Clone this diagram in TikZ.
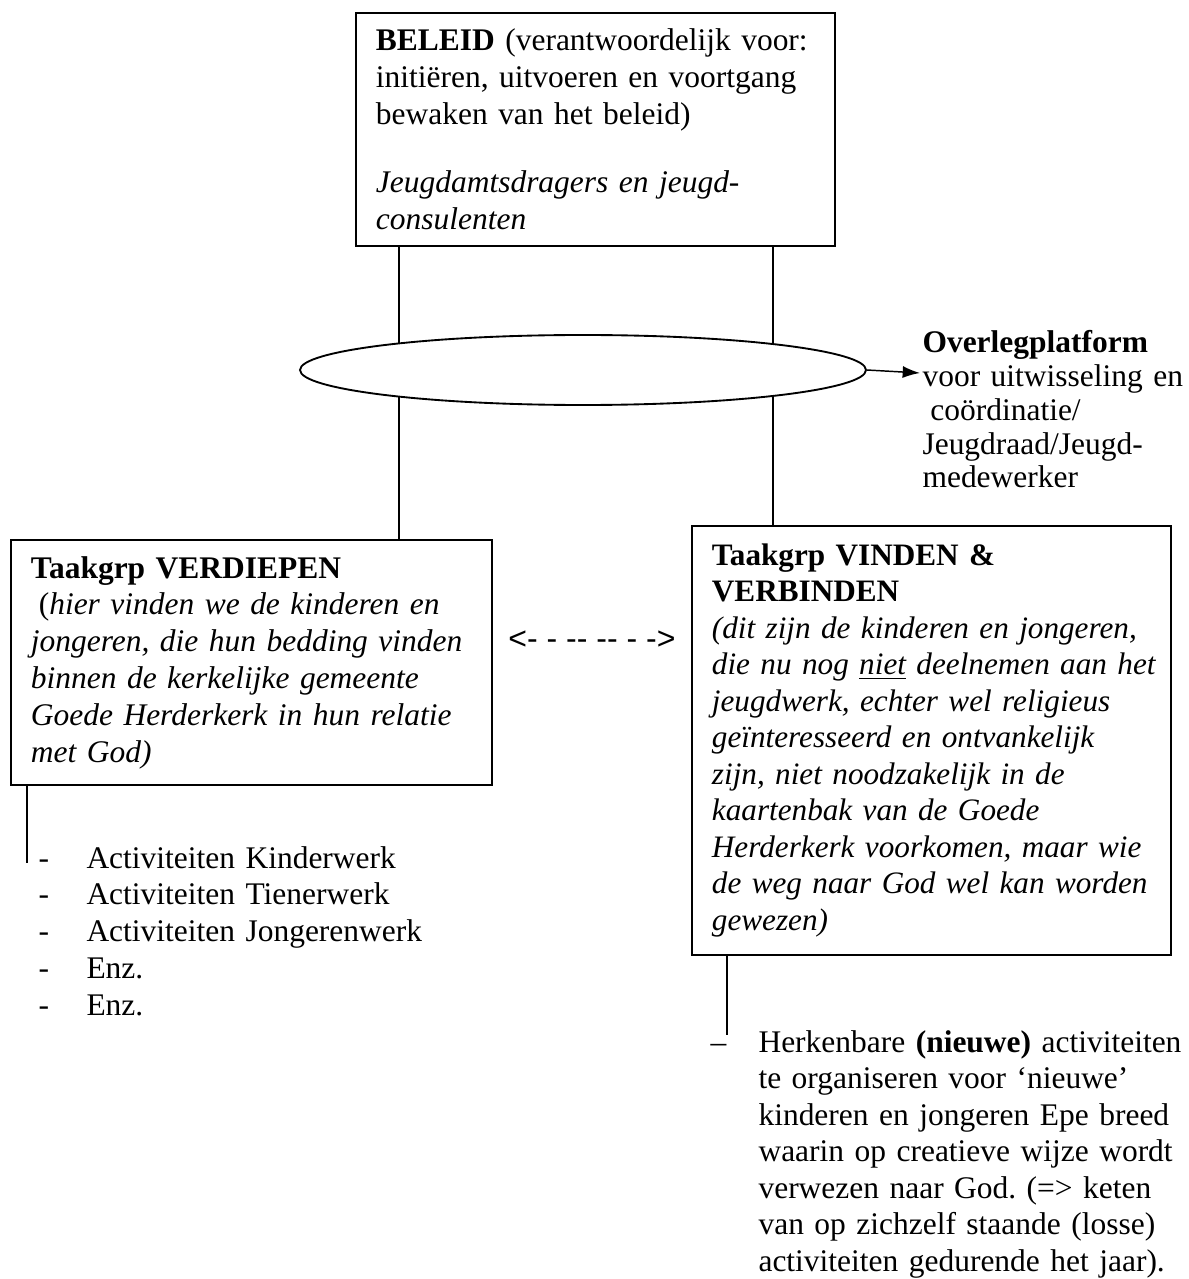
\documentclass[tikz,border=0pt]{standalone}
\usepackage{fontspec}
\setmainfont{Liberation Serif}
\newfontfamily\arialfont{Liberation Sans}
\usetikzlibrary{arrows.meta,shapes.geometric}
\newcommand{\regel}[1]{\mbox{#1}}
\frenchspacing

\begin{document}
\begin{tikzpicture}[x=0.375pt, y=-0.375pt, >={Latex[length=6.5pt,width=4.5pt]},
    txt/.style={font=\fontsize{11.8}{13.8}\selectfont, inner sep=0pt, align=left},
    box/.style={txt, draw, line width=0.7pt, anchor=north west, inner xsep=7.5pt, inner ysep=6.1pt},
    conn/.style={line width=0.55pt}]

    \path [use as bounding box, fill=white] (0,0) rectangle (1188,1279);

    % Boxes {beleid, verd, vind}
    \node [box, inner ysep=6pt, text width=164.6pt] (beleid) at (355,12)
        {\regel{\textbf{BELEID} (verantwoordelijk voor:}\\
         \regel{initiëren, uitvoeren en voortgang}\\
         bewaken van het beleid)\\[11.85pt]
         \textit{Jeugdamtsdragers en jeugd-}\\
         \textit{consulenten}};
    \node [box, text width=165.4pt] (verd) at (10,539)
        {\textbf{Taakgrp VERDIEPEN}\\
         \regel{\hspace*{0.25em}(\textit{hier vinden we de kinderen en}}\\
         \regel{\textit{jongeren, die hun bedding vinden}}\\
         \regel{\textit{binnen de kerkelijke gemeente}}\\
         \regel{\textit{Goede Herderkerk in hun relatie}}\\
         \textit{met God)}};
    \node [box, inner ysep=6.6pt, text width=164.6pt, font=\fontsize{11.7}{13.7}\selectfont] (vind) at (691,525)
        {\textbf{Taakgrp VINDEN \&}\\
         \textbf{VERBINDEN}\\
         \regel{\textit{(dit zijn de kinderen en jongeren,}}\\
         \regel{\textit{die nu nog \underline{niet} deelnemen aan het}}\\
         \regel{\textit{jeugdwerk, echter wel religieus}}\\
         \regel{\textit{geïnteresseerd en ontvankelijk}}\\
         \regel{\textit{zijn, niet noodzakelijk in de}}\\
         \regel{\textit{kaartenbak van de Goede}}\\
         \regel{\textit{Herderkerk voorkomen, maar wie}}\\
         \regel{\textit{de weg naar God wel kan worden}}\\
         \textit{gewezen)}};

    % Texts {overlegtxt, dashtxt, kinderlist, nieuwlist}
    \node [txt, anchor=base west, text width=115pt, font=\fontsize{11.8}{12.65}\selectfont] (overlegtxt) at (922,353)
        {\textbf{Overlegplatform}\\
         \regel{voor uitwisseling en}\\
         \hspace*{0.25em}coördinatie/\\
         Jeugdraad/Jeugd-\\
         medewerker};
    \node [txt, font={\fontsize{12}{13.8}\selectfont\arialfont}] (dashtxt) at (592,640)
        {<-{} -{} -{}-{} -{}-{} -{} -{}>};
    \node [txt, anchor=base west, text width=160pt] (kinderlist) at (38,868)
        {\makebox[18pt][l]{-}Activiteiten Kinderwerk\\
         \makebox[18pt][l]{-}Activiteiten Tienerwerk\\
         \makebox[18pt][l]{-}Activiteiten Jongerenwerk\\
         \makebox[18pt][l]{-}Enz.\\
         \makebox[18pt][l]{-}Enz.};
    \node [txt, anchor=base west, text width=180pt, font=\fontsize{11.8}{13.7}\selectfont] (nieuwlist) at (710,1052)
        {\regel{\makebox[18pt][l]{–}Herkenbare \textbf{(nieuwe)} activiteiten}\\
         \hspace*{18pt}te organiseren voor ‘nieuwe’\\
         \hspace*{18pt}kinderen en jongeren Epe breed\\
         \hspace*{18pt}waarin op creatieve wijze wordt\\
         \hspace*{18pt}verwezen naar God. (=> keten\\
         \hspace*{18pt}van op zichzelf staande (losse)\\
         \regel{\hspace*{18pt}activiteiten gedurende het jaar).}};

    % Coordinates
    \coordinate (bl) at (399,0);
    \coordinate (br) at (773,0);
    \coordinate (verdend) at (27,863);
    \coordinate (vindend) at (727,1035);
    \coordinate (pijlpunt) at (920,373);

    % Paths
    \draw [conn] (beleid.south -| bl) -- (verd.north -| bl);
    \draw [conn] (beleid.south -| br) -- (vind.north -| br);
    \node [draw, ellipse, fill=white, line width=0.7pt, inner sep=0pt,
           minimum width=212.25pt, minimum height=26.25pt] (overleg) at (583,370) {};
    \draw [conn, ->] (overleg.east) -- (pijlpunt);
    \draw [conn] (verd.south -| verdend) -- (verdend);
    \draw [conn] (vind.south -| vindend) -- (vindend);

\end{tikzpicture}
\end{document}
